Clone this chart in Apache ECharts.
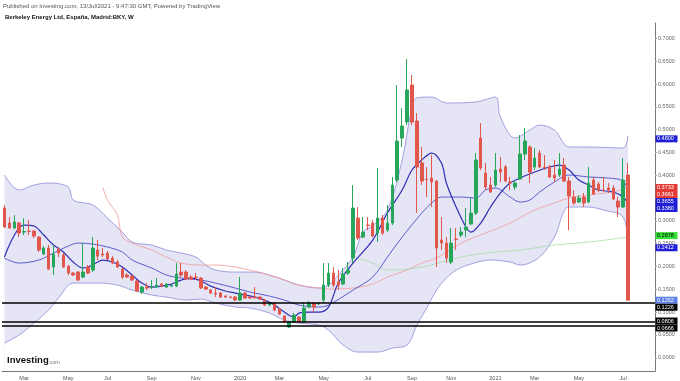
<!DOCTYPE html>
<html><head><meta charset="utf-8">
<script src="https://cdn.jsdelivr.net/npm/echarts@6/dist/echarts.min.js"></script>
<style>html,body{margin:0;padding:0;background:#fff}#c{width:680px;height:381px}</style>
</head><body><div id="c"></div>
<script>
// weekly bars, first bar = week of 2019-02-04
const firstWeek = Date.UTC(2019, 1, 4);
const totalWeeks = 133; // includes empty weeks at the right margin
const open  = [0.3283,0.2954,0.2844,0.2954,0.2756,0.2778,0.2778,0.2647,0.2274,0.2406,0.1989,0.2384,0.2252,0.2011,0.1857,0.1879,0.1770,0.1989,0.1923,0.2362,0.2274,0.2296,0.2186,0.2099,0.1945,0.1814,0.1792,0.1682,0.1441,0.1550,0.1550,0.1550,0.1616,0.1550,0.1572,0.1572,0.1879,0.1879,0.1770,0.1770,0.1748,0.1550,0.1485,0.1419,0.1419,0.1353,0.1331,0.1331,0.1265,0.1419,0.1331,0.1331,0.1331,0.1265,0.1156,0.1200,0.1068,0.0914,0.0673,0.0783,0.0892,0.0783,0.1112,0.1200,0.1178,0.1265,0.1594,0.1857,0.1660,0.1616,0.1857,0.2186,0.3063,0.2647,0.2910,0.2954,0.2734,0.3063,0.2800,0.2954,0.3897,0.4818,0.5169,0.5980,0.5191,0.4270,0.3919,0.3941,0.3875,0.2581,0.2515,0.2099,0.2603,0.2691,0.2800,0.2932,0.3173,0.4818,0.4050,0.3787,0.3787,0.4138,0.4182,0.3853,0.3743,0.3919,0.4467,0.4621,0.4182,0.4489,0.4182,0.4182,0.4007,0.4007,0.4226,0.3875,0.3524,0.3415,0.3524,0.3415,0.3897,0.3809,0.3678,0.3721,0.3721,0.3436,0.3305,0.4007];
const close = [0.2866,0.2844,0.2976,0.2734,0.2767,0.2770,0.2669,0.2362,0.2406,0.1945,0.2274,0.2296,0.1989,0.1857,0.1814,0.1704,0.1879,0.1857,0.2406,0.2230,0.2252,0.2164,0.2077,0.1989,0.1770,0.1770,0.1704,0.1463,0.1550,0.1529,0.1561,0.1594,0.1572,0.1616,0.1583,0.1835,0.1814,0.1726,0.1726,0.1759,0.1529,0.1507,0.1419,0.1397,0.1331,0.1331,0.1320,0.1265,0.1419,0.1309,0.1309,0.1320,0.1287,0.1156,0.1200,0.1046,0.0958,0.0783,0.0783,0.0936,0.0783,0.1090,0.1200,0.1112,0.1189,0.1594,0.1857,0.1594,0.1594,0.1835,0.1923,0.3283,0.2625,0.2756,0.2900,0.2669,0.3063,0.2734,0.2954,0.3787,0.4752,0.5081,0.5871,0.5169,0.4182,0.3875,0.3908,0.3853,0.2406,0.2515,0.2186,0.2515,0.2592,0.2756,0.2866,0.3173,0.4336,0.4160,0.3743,0.3634,0.4116,0.4072,0.3875,0.3831,0.3831,0.4467,0.4752,0.4072,0.4379,0.4182,0.4171,0.3963,0.3941,0.4138,0.3875,0.3546,0.3393,0.3502,0.3393,0.3831,0.3590,0.3678,0.3668,0.3678,0.3480,0.3305,0.3897,0.1262];
const low   = [0.2850,0.2830,0.2830,0.2647,0.2691,0.2691,0.2625,0.2318,0.2252,0.1923,0.1814,0.2208,0.1967,0.1814,0.1792,0.1682,0.1748,0.1835,0.1879,0.2143,0.2208,0.2143,0.2055,0.1967,0.1726,0.1748,0.1682,0.1441,0.1397,0.1485,0.1507,0.1529,0.1550,0.1529,0.1550,0.1550,0.1770,0.1704,0.1704,0.1704,0.1507,0.1485,0.1397,0.1331,0.1309,0.1309,0.1309,0.1243,0.1243,0.1287,0.1287,0.1287,0.1265,0.1134,0.1134,0.1024,0.0936,0.0761,0.0651,0.0761,0.0761,0.0761,0.1090,0.1002,0.1156,0.1200,0.1550,0.1550,0.1485,0.1594,0.1814,0.2077,0.2581,0.2625,0.2800,0.2647,0.2537,0.2691,0.2756,0.2910,0.3853,0.4621,0.5103,0.5103,0.3173,0.3787,0.3524,0.3305,0.1989,0.2362,0.2077,0.2055,0.2362,0.2647,0.2647,0.2910,0.3129,0.4116,0.3678,0.3612,0.3743,0.3853,0.3853,0.3678,0.3678,0.3897,0.4336,0.3831,0.4116,0.4160,0.4116,0.3941,0.3853,0.3963,0.3853,0.2800,0.3349,0.3393,0.3305,0.3393,0.3568,0.3634,0.3634,0.3612,0.3458,0.3085,0.3283,0.1262];
const high  = [0.3349,0.3085,0.3129,0.2976,0.3063,0.3020,0.2800,0.2669,0.2450,0.2471,0.2471,0.2428,0.2296,0.2033,0.1879,0.1901,0.2515,0.2033,0.2647,0.2581,0.2406,0.2340,0.2230,0.2143,0.1967,0.1857,0.1814,0.1704,0.1572,0.1638,0.1704,0.1748,0.1638,0.1638,0.1616,0.2077,0.2077,0.1923,0.1814,0.1857,0.1770,0.1572,0.1507,0.1550,0.1441,0.1375,0.1353,0.1353,0.1770,0.1441,0.1353,0.1550,0.1353,0.1287,0.1221,0.1221,0.1090,0.0936,0.0805,0.0980,0.0914,0.1221,0.1243,0.1221,0.1221,0.2077,0.2077,0.1989,0.1923,0.1967,0.2099,0.3787,0.3305,0.3085,0.3085,0.3020,0.4160,0.3129,0.3349,0.3963,0.5980,0.5476,0.6550,0.6200,0.5366,0.4621,0.4182,0.4445,0.3897,0.3085,0.2647,0.2844,0.2844,0.2866,0.3283,0.3502,0.4489,0.5147,0.4270,0.3963,0.4489,0.4401,0.4226,0.3963,0.3897,0.4884,0.5037,0.4664,0.4599,0.4555,0.4445,0.4226,0.4336,0.4489,0.4379,0.3963,0.3678,0.3568,0.3612,0.4182,0.3963,0.3853,0.3963,0.3831,0.3787,0.3524,0.4379,0.4270];

// indicator readings: [week index, value]
const bbUpper = [[0,0.4007],[3,0.3678],[6,0.3787],[9,0.3831],[13,0.3743],[14,0.3458],[18,0.3349],[21,0.3063],[24,0.2756],[26,0.2537],[30,0.2471],[33,0.2362],[36,0.2296],[39,0.2208],[41,0.2033],[43,0.1923],[47,0.1879],[51,0.1879],[54,0.1814],[57,0.1704],[60,0.1594],[64,0.1529],[66,0.1594],[68,0.1814],[71,0.2208],[73,0.2756],[75,0.2900],[78,0.3239],[81,0.4336],[83,0.5498],[84,0.5695],[87,0.5717],[90,0.5586],[96,0.5608],[100,0.5717],[101,0.5279],[104,0.4818],[107,0.4993],[109,0.5103],[112,0.4993],[115,0.4621],[119,0.4621],[126,0.4599],[127,0.4866]];
const bbLower = [[0,0.0322],[3,0.0498],[6,0.0761],[9,0.1046],[11,0.1309],[14,0.1638],[17,0.1638],[19,0.1638],[23,0.1594],[26,0.1485],[30,0.1375],[33,0.1331],[37,0.1265],[40,0.1287],[43,0.1200],[47,0.1112],[50,0.1090],[54,0.0980],[57,0.0827],[60,0.0761],[64,0.0717],[66,0.0607],[69,0.0278],[72,0.0125],[76,0.0125],[79,0.0213],[82,0.0278],[84,0.0717],[86,0.1090],[88,0.1485],[90,0.1748],[92,0.1923],[95,0.2055],[99,0.2143],[103,0.2099],[105,0.2033],[109,0.2208],[112,0.2647],[115,0.3305],[119,0.3305],[122,0.3239],[126,0.3085],[127,0.2412]];
const bbMiddle = [[0,0.2186],[3,0.2077],[7,0.2143],[10,0.2296],[13,0.2450],[15,0.2515],[18,0.2493],[21,0.2428],[24,0.2318],[26,0.2143],[30,0.1967],[33,0.1814],[36,0.1748],[40,0.1704],[43,0.1638],[47,0.1529],[50,0.1441],[54,0.1353],[57,0.1265],[60,0.1156],[64,0.1112],[66,0.1156],[71,0.1485],[75,0.1770],[78,0.2208],[81,0.2647],[85,0.3173],[87,0.3393],[89,0.3524],[93,0.3524],[96,0.3502],[98,0.3678],[100,0.3721],[103,0.3524],[105,0.3415],[107,0.3458],[109,0.3634],[112,0.3853],[115,0.4007],[119,0.3963],[123,0.3941],[126,0.3875],[127,0.3655]];
const fastMA = [[0,0.2208],[4,0.2910],[6,0.2888],[8,0.2691],[10,0.2471],[12,0.2318],[14,0.2099],[16,0.1967],[17,0.1989],[19,0.2099],[20,0.2143],[22,0.2099],[24,0.1989],[26,0.1814],[28,0.1638],[30,0.1550],[32,0.1572],[34,0.1616],[36,0.1704],[38,0.1748],[40,0.1682],[42,0.1572],[45,0.1463],[47,0.1419],[49,0.1375],[51,0.1331],[53,0.1265],[55,0.1156],[57,0.1002],[59,0.0892],[60,0.0980],[62,0.1002],[64,0.1002],[66,0.1112],[68,0.1638],[71,0.2077],[75,0.2581],[78,0.3173],[81,0.3678],[83,0.4116],[85,0.4336],[87,0.4489],[89,0.4270],[90,0.3831],[92,0.3305],[94,0.2866],[95,0.2756],[97,0.2954],[99,0.3305],[101,0.3612],[103,0.3831],[105,0.3941],[108,0.4072],[111,0.4182],[113,0.4226],[115,0.4116],[117,0.3897],[119,0.3787],[121,0.3678],[124,0.3634],[126,0.3524],[127,0.3380]];
const redMA = [[20,0.3743],[21,0.3458],[23,0.3129],[24,0.2647],[26,0.2515],[30,0.2362],[33,0.2208],[36,0.2077],[40,0.2033],[43,0.2033],[47,0.1989],[50,0.1923],[54,0.1814],[57,0.1704],[60,0.1594],[64,0.1529],[66,0.1507],[71,0.1529],[75,0.1616],[78,0.1770],[82,0.1923],[85,0.2077],[88,0.2186],[93,0.2515],[98,0.2734],[103,0.2954],[108,0.3239],[112,0.3393],[115,0.3502],[119,0.3568],[124,0.3640],[127,0.3733]];
const greenMA = [[72,0.2186],[75,0.2077],[78,0.1923],[85,0.1989],[92,0.2186],[98,0.2296],[105,0.2362],[112,0.2471],[119,0.2537],[127,0.2647]];

const hLines = [0.1226, 0.0806, 0.0666];
const tags = [
  {v:0.4800, bg:'#1f1fd6', fg:'#fff'},
  {v:0.3733, bg:'#e53935', fg:'#fff'},
  {v:0.3661, bg:'#e53935', fg:'#fff'},
  {v:0.3655, bg:'#1f1fd6', fg:'#fff'},
  {v:0.3380, bg:'#1f1fd6', fg:'#fff'},
  {v:0.2678, bg:'#33e033', fg:'#000'},
  {v:0.2412, bg:'#1f1fd6', fg:'#fff'},
  {v:0.1262, bg:'#5b7fe6', fg:'#fff'},
  {v:0.1226, bg:'#000000', fg:'#fff'},
  {v:0.0806, bg:'#000000', fg:'#fff'},
  {v:0.0666, bg:'#000000', fg:'#fff'}
];
const monthTicks = {'2019-03-04':'Mar','2019-05-06':'May','2019-07-01':'Jul','2019-09-02':'Sep','2019-11-04':'Nov','2020-01-06':'2020','2020-03-02':'Mar','2020-05-04':'May','2020-07-06':'Jul','2020-09-07':'Sep','2020-11-02':'Nov','2021-01-04':'2021','2021-03-01':'Mar','2021-05-03':'May','2021-07-05':'Jul'};

const weeks = [];
for (let i = 0; i < totalWeeks; i++) weeks.push(new Date(firstWeek + i*7*864e5).toISOString().slice(0,10));
const candles = open.map((o,i)=>[o, close[i], low[i], high[i]]);
const FONT = 'Liberation Sans, Arial, sans-serif';

const lineS = (name, data, color, width, extra) => Object.assign({
  name, type:'line', xAxisIndex:1, data, smooth:0.35, symbol:'none',
  lineStyle:{color, width}, silent:true, z:2
}, extra||{});

const chart = echarts.init(document.getElementById('c'));
chart.setOption({
  animation:false,
  backgroundColor:'#ffffff',
  grid:{left:2, right:25, top:23, bottom:10},
  xAxis:[
    {type:'category', data:weeks, boundaryGap:true, z:10,
     axisLine:{onZero:false, lineStyle:{color:'#777', width:1}}, axisTick:{show:false}, splitLine:{show:false},
     axisLabel:{interval:(i,v)=>monthTicks[v]!==undefined, formatter:v=>monthTicks[v]||'', fontSize:5.5, color:'#555', margin:4, fontFamily:FONT}},
    {type:'value', min:-0.5, max:totalWeeks-0.5, show:false, axisLine:{onZero:false}}
  ],
  yAxis:{type:'value', position:'right', min:-0.029, max:0.734, splitNumber:15, scale:false, z:10,
    axisLine:{show:true, onZero:false, lineStyle:{color:'#777', width:1}},
    axisTick:{show:true, length:2, lineStyle:{color:'#aaa'}},
    splitLine:{show:false},
    axisLabel:{fontSize:5.5, color:'#666', margin:3, fontFamily:FONT, showMinLabel:false, showMaxLabel:false,
      formatter:v=>v.toFixed(4)}},
  series:[
    lineS('upper', bbUpper, '#8c8cdc', 0.8, {areaStyle:{color:'#e5e5f6', opacity:1, origin:'start'}, z:1}),
    lineS('lower', bbLower, '#8c8cdc', 0.8, {areaStyle:{color:'#ffffff', opacity:1, origin:'start'}, z:1}),
    lineS('redMA', redMA, '#f19a9a', 0.8),
    lineS('greenMA', greenMA, '#a4dea4', 0.8),
    lineS('middle', bbMiddle, '#5c5cd0', 1),
    lineS('fast', fastMA, '#2f2fb4', 1.2),
    {name:'price', type:'candlestick', xAxisIndex:0, data:candles, barWidth:3, z:3,
     itemStyle:{color:'#26a65b', color0:'#e2574c', borderColor:'#26a65b', borderColor0:'#e2574c', borderWidth:1},
     markLine:{silent:true, symbol:['none','none'], label:{show:false}, animation:false,
       lineStyle:{color:'#000', width:1.5, type:'solid'}, data:hLines.map(v=>({yAxis:v}))}}
  ]
});

const H = 7;
const placed = tags.map(t=>Object.assign({}, t, {y: chart.convertToPixel({yAxisIndex:0}, t.v)})).sort((a,b)=>a.y-b.y);
for (let k=1;k<placed.length;k++) if (placed[k].y < placed[k-1].y + H) placed[k].y = placed[k-1].y + H;
const gfx = [
  {type:'text', left:3, top:3, z:100, style:{text:'Published on Investing.com, 13/Jul/2021 - 9:47:30 GMT, Powered by TradingView', fontSize:6, fill:'#555', fontFamily:FONT}},
  {type:'text', left:5, top:14, z:100, style:{text:'Berkeley Energy Ltd, España, Madrid:BKY, W', fontSize:6, fontWeight:'bold', fill:'#111', fontFamily:FONT}},
  {type:'text', left:7, top:355, z:100, style:{text:'Investing', fontSize:9.5, fontWeight:900, fill:'#111', fontFamily:FONT}},
  {type:'text', left:48, top:359, z:100, style:{text:'.com', fontSize:5.5, fill:'#777', fontFamily:FONT}}
];
placed.forEach(p=>{
  gfx.push({type:'rect', z:100, shape:{x:655.5, y:p.y-H/2, width:22, height:H}, style:{fill:p.bg}});
  gfx.push({type:'text', z:101, x:657, y:p.y, style:{text:p.v.toFixed(4), fontSize:5.5, fill:p.fg, fontFamily:FONT, verticalAlign:'middle', align:'left'}});
});
chart.setOption({graphic:gfx});
</script></body></html>
